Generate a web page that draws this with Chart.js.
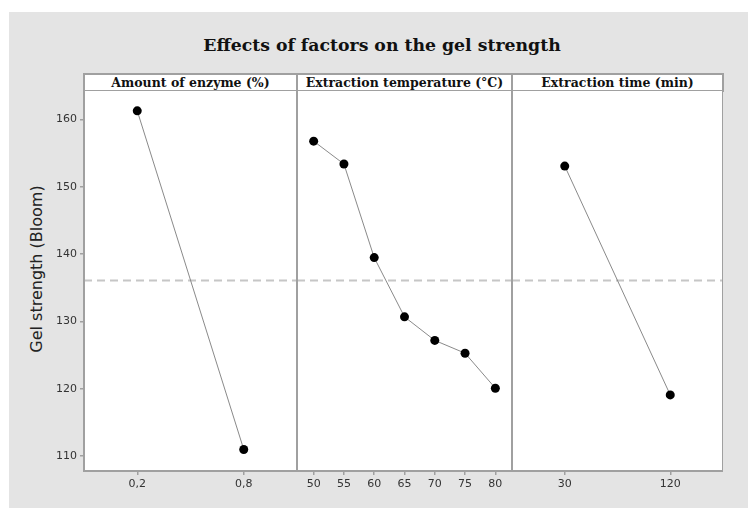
<!DOCTYPE html>
<html>
<head>
<meta charset="utf-8">
<script src="https://cdn.jsdelivr.net/npm/chart.js@4/dist/chart.umd.min.js"></script>
<style>
  body { margin: 0; width: 748px; height: 508px; background: #fff; position: relative; overflow: hidden; }
  #bg { position: absolute; left: 9px; top: 12px; width: 739px; height: 496px; background: #e4e4e4; }
  #title { position: absolute; left: 182px; width: 400px; top: 35px; text-align: center;
           font: bold 17.3px 'DejaVu Serif'; color: #111; white-space: nowrap; }
  .hdr { position: absolute; top: 73px; height: 19px; box-sizing: border-box; background: #fff;
         border: 2px solid #a0a0a0; text-align: center; font: bold 12.5px 'DejaVu Serif';
         line-height: 15px; color: #111; white-space: nowrap; }
  #ylabel { position: absolute; left: -88px; top: 259px; width: 250px; height: 20px; line-height: 20px;
            text-align: center; transform: rotate(-90deg); font: 16px 'DejaVu Sans'; color: #222; }
  canvas { position: absolute; top: 91px; }
</style>
</head>
<body>
<div id="bg"></div>
<div id="title">Effects of factors on the gel strength</div>
<div class="hdr" style="left:83px;width:215px">Amount of enzyme (%)</div>
<div class="hdr" style="left:296px;width:217px">Extraction temperature (°C)</div>
<div class="hdr" style="left:511px;width:213px">Extraction time (min)</div>
<div id="ylabel">Gel strength (Bloom)</div>
<canvas id="c1" width="297" height="417" style="left:0px"></canvas>
<canvas id="c2" width="215" height="417" style="left:297px"></canvas>
<canvas id="c3" width="211" height="417" style="left:512px"></canvas>
<script>
(() => {
    'use strict'

    // values
    const yTicks = [110, 120, 130, 140, 150, 160]
    const yMin = 107.8
    const yMax = 164.25
    const grandMean = 136.1

    const enzymeLevels = ['0,2', '0,8']
    const enzymeGel = [161.3, 111.0]

    const tempLevels = ['50', '55', '60', '65', '70', '75', '80']
    const tempGel = [156.8, 153.4, 139.5, 130.7, 127.2, 125.3, 120.1]

    const timeLevels = ['30', '120']
    const timeGel = [153.1, 119.1]

    Chart.defaults.font.family = 'DejaVu Sans'
    Chart.defaults.font.size = 11
    Chart.defaults.color = '#333'

    const gridColor = '#a0a0a0'

    // white plot area, dashed grand-mean line, panel frame
    const framePlugin = {
        id: 'frame',
        beforeDraw(chart) {
            const {ctx, chartArea: a} = chart
            ctx.save()
            ctx.fillStyle = '#fff'
            ctx.fillRect(a.left, a.top, a.right - a.left, a.bottom - a.top)
            ctx.restore()
        },
        beforeDatasetsDraw(chart) {
            const {ctx, chartArea: a, scales} = chart
            const y = scales.y.getPixelForValue(grandMean)
            ctx.save()
            ctx.strokeStyle = '#c6c6c6'
            ctx.lineWidth = 2
            ctx.setLineDash([8, 5])
            ctx.beginPath()
            ctx.moveTo(a.left, y)
            ctx.lineTo(a.right, y)
            ctx.stroke()
            ctx.restore()
        },
        afterDraw(chart) {
            const {ctx, chartArea: a} = chart
            ctx.save()
            ctx.strokeStyle = gridColor
            ctx.lineWidth = 2
            ctx.beginPath()
            ctx.moveTo(a.left, a.top)
            ctx.lineTo(a.left, a.bottom)
            ctx.lineTo(a.right, a.bottom)
            ctx.lineTo(a.right, a.top)
            ctx.stroke()
            ctx.restore()
        }
    }

    const noPad = s => {
        s.paddingTop = 0
        s.paddingBottom = 0
        s.paddingLeft = 0
        s.paddingRight = 0
    }

    function panel(id, levels, values, pad, showY) {
        return new Chart(document.getElementById(id), {
            type: 'line',
            data: {
                datasets: [{
                    data: values.map((v, i) => ({x: i, y: v})),
                    borderColor: '#8a8a8a',
                    borderWidth: 1,
                    tension: 0,
                    pointRadius: 4.5,
                    pointBackgroundColor: '#000',
                    pointBorderColor: '#000',
                    pointBorderWidth: 0
                }]
            },
            options: {
                responsive: false,
                animation: false,
                layout: {padding: 0, autoPadding: false},
                plugins: {legend: {display: false}, tooltip: {enabled: false}},
                scales: {
                    x: {
                        type: 'linear',
                        min: -pad,
                        max: levels.length - 1 + pad,
                        afterBuildTicks: s => { s.ticks = levels.map((_, i) => ({value: i})) },
                        afterFit: s => { s.height = 37; noPad(s) },
                        ticks: {callback: v => levels[v], maxRotation: 0, autoSkip: false, padding: 3},
                        grid: {drawOnChartArea: false, tickLength: 4, color: gridColor, lineWidth: 1.5},
                        border: {display: false}
                    },
                    y: {
                        display: showY,
                        min: yMin,
                        max: yMax,
                        afterBuildTicks: s => { s.ticks = yTicks.map(v => ({value: v})) },
                        afterFit: s => { if (showY) s.width = 84; noPad(s) },
                        ticks: {padding: 3},
                        grid: {drawOnChartArea: false, tickLength: 4, color: gridColor, lineWidth: 1.5},
                        border: {display: false}
                    }
                }
            },
            plugins: [framePlugin]
        })
    }

    panel('c1', enzymeLevels, enzymeGel, 0.5, true)
    panel('c2', tempLevels, tempGel, 0.55, false)
    panel('c3', timeLevels, timeGel, 0.5, false)
})()
</script>
</body>
</html>
